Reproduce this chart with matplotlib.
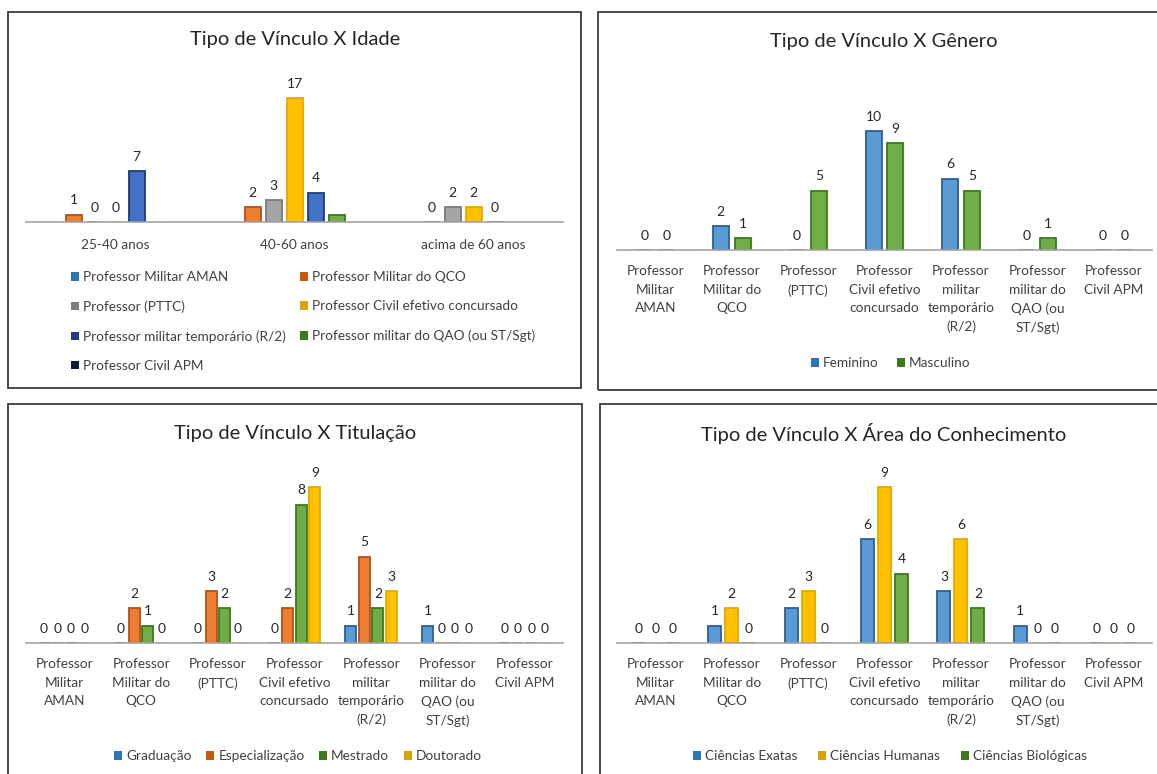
import matplotlib.pyplot as plt
import matplotlib.patches as mpatches
import numpy as np

W, H = 1157, 774

plt.rcParams['font.family'] = ['Lato', 'DejaVu Sans']

# categories
vinculos = ["Professor Militar AMAN", "Professor Militar do QCO", "Professor (PTTC)",
            "Professor Civil efetivo concursado", "Professor militar temporário (R/2)",
            "Professor militar do QAO (ou ST/Sgt)", "Professor Civil APM"]
vinculo_ticks = ["Professor\nMilitar\nAMAN", "Professor\nMilitar do\nQCO", "Professor\n(PTTC)",
                 "Professor\nCivil efetivo\nconcursado", "Professor\nmilitar\ntemporário\n(R/2)",
                 "Professor\nmilitar do\nQAO (ou\nST/Sgt)", "Professor\nCivil APM"]
idade_cats = ["25-40 anos", "40-60 anos", "acima de 60 anos"]

# idade: one list per vinculo (nan = no value in the sheet)
nan = np.nan
idade_aman = [nan, nan, nan]
idade_qco = [1, 2, 0]
idade_pttc = [0, 3, 2]
idade_civil = [0, 17, 2]
idade_temp = [7, 4, 0]
idade_qao = [nan, 1, nan]
idade_apm = [nan, nan, nan]
idade_labeled = [False, True, True, True, True, False, False]

genero_names = ["Feminino", "Masculino"]
genero_fem = [0, 2, 0, 10, 6, 0, 0]
genero_masc = [0, 1, 5, 9, 5, 1, 0]

titulo_names = ["Graduação", "Especialização", "Mestrado", "Doutorado"]
titulo_grad = [0, 0, 0, 0, 1, 1, 0]
titulo_esp = [0, 2, 3, 2, 5, 0, 0]
titulo_mest = [0, 1, 2, 8, 2, 0, 0]
titulo_dout = [0, 0, 0, 9, 3, 0, 0]

area_names = ["Ciências Exatas", "Ciências Humanas", "Ciências Biológicas"]
area_exatas = [0, 1, 2, 6, 3, 1, 0]
area_humanas = [0, 2, 3, 9, 6, 0, 0]
area_bio = [0, 0, 0, 4, 2, 0, 0]

# (fill, edge, legend swatch)
BLUE = ('#5b9bd5', '#2f5f91', '#2e75b6')
ORANGE = ('#ed7d31', '#b4501a', '#c55a11')
GRAY = ('#a5a5a5', '#7a7a7a', '#7f7f7f')
GOLD = ('#ffc000', '#e3a800', '#d9a300')
NAVY = ('#4472c4', '#1f3a7a', '#203a8c')
GREEN = ('#70ad47', '#3d7a1e', '#3c7a1e')
DARK = ('#1a2540', '#0d1326', '#0d1a3a')

TXT = '#262626'
FS = 9.8


def px_axes(fig, x0, y_top, x1, y_base):
    return fig.add_axes([x0 / W, 1 - y_base / H, (x1 - x0) / W, (y_base - y_top) / H])


def frame(fig, x0, y0, x1, y1):
    fig.patches.append(mpatches.Rectangle((x0 / W, 1 - y1 / H), (x1 - x0) / W, (y1 - y0) / H,
                                          transform=fig.transFigure, fill=False,
                                          edgecolor='#3a3a3a', linewidth=1.3))


def grouped(ax, series, styles, slot, width, labeled=None, fs=10):
    n = len(series)
    x = np.arange(len(series[0]))
    if labeled is None:
        labeled = [True] * n
    for i, vals in enumerate(series):
        v = np.array(vals, dtype=float)
        pos = x + (i - (n - 1) / 2) * slot
        ax.bar(pos, v, width, color=styles[i][0], edgecolor=styles[i][1], linewidth=1.3)
        if labeled[i]:
            for p, val in zip(pos, v):
                if not np.isnan(val):
                    ax.annotate(f"{val:g}", (p, val), xytext=(0, 6), textcoords='offset points',
                                ha='center', va='bottom', fontsize=fs, color=TXT)


def style_axes(ax, cats, ymax, pad):
    ax.set_xlim(-0.5, len(cats) - 0.5)
    ax.set_ylim(0, ymax)
    for s in ['top', 'left', 'right']:
        ax.spines[s].set_visible(False)
    ax.spines['bottom'].set_color('#a6a6a6')
    ax.spines['bottom'].set_linewidth(1.2)
    ax.set_yticks([])
    ax.set_xticks(range(len(cats)))
    ax.set_xticklabels(cats, fontsize=FS, color='#404040', linespacing=1.64, va='top')
    ax.tick_params(axis='x', length=0, pad=pad)
    ax.patch.set_alpha(0)


def legend(ax, names, styles, x, y, ncol, colsp, labsp=0.5):
    handles = [mpatches.Patch(facecolor=s[2], edgecolor='none') for s in styles]
    ax.legend(handles, names, loc='upper left', bbox_to_anchor=(x / W, 1 - y / H),
              bbox_transform=ax.figure.transFigure, ncol=ncol, frameon=False,
              handlelength=0.6, handleheight=0.6, handletextpad=0.3,
              columnspacing=colsp, labelspacing=labsp, fontsize=FS, labelcolor='#404040',
              borderaxespad=0, borderpad=0)


fig = plt.figure(figsize=(W / 100, H / 100), dpi=100)

frame(fig, 8, 12, 581, 388)
frame(fig, 598, 12, 1170, 390)
frame(fig, 8, 404, 582, 790)
frame(fig, 600, 404, 1170, 790)

# Tipo de Vinculo X Idade
ax1 = px_axes(fig, 26, 60, 563, 222)
st1 = [BLUE, ORANGE, GRAY, GOLD, NAVY, GREEN, DARK]
grouped(ax1, [idade_aman, idade_qco, idade_pttc, idade_civil, idade_temp, idade_qao, idade_apm],
        st1, 21 / 179, 16 / 179, idade_labeled)
style_axes(ax1, idade_cats, (222 - 60) / 7.3, 12)
fig.text(295 / W, 1 - 40 / H, "Tipo de Vínculo X Idade", ha='center', va='center',
         fontsize=14.5, color=TXT)
# row-major order for the two-column legend
order = [0, 2, 4, 6, 1, 3, 5]
legend(ax1, [vinculos[i] for i in order], [st1[i] for i in order], 71, 271, 2, 1.0, labsp=1.27)

# Tipo de Vinculo X Genero
ax2 = px_axes(fig, 617, 70, 1152, 250)
grouped(ax2, [genero_fem, genero_masc], [BLUE, GREEN], 22 / 76.5, 16 / 76.5)
style_axes(ax2, vinculo_ticks, (250 - 70) / 11.9, 11)
fig.text(884 / W, 1 - 42 / H, "Tipo de Vínculo X Gênero", ha='center', va='center',
         fontsize=14.5, color=TXT)
legend(ax2, genero_names, [BLUE, GREEN], 811, 357, 2, 1.3)

# Tipo de Vinculo X Titulacao
ax3 = px_axes(fig, 26, 460, 563, 643)
grouped(ax3, [titulo_grad, titulo_esp, titulo_mest, titulo_dout], [BLUE, ORANGE, GREEN, GOLD],
        13.5 / 76.7, 11 / 76.7)
style_axes(ax3, vinculo_ticks, (643 - 460) / 17.3, 11)
fig.text(295 / W, 1 - 434 / H, "Tipo de Vínculo X Titulação", ha='center', va='center',
         fontsize=14.5, color=TXT)
legend(ax3, titulo_names, [BLUE, ORANGE, GREEN, GOLD], 114, 750, 4, 1.05)

# Tipo de Vinculo X Area do Conhecimento
ax4 = px_axes(fig, 617, 460, 1152, 643)
grouped(ax4, [area_exatas, area_humanas, area_bio], [BLUE, GOLD, GREEN], 17 / 76.5, 13 / 76.5)
style_axes(ax4, vinculo_ticks, (643 - 460) / 17.3, 11)
fig.text(884 / W, 1 - 434 / H, "Tipo de Vínculo X Área do Conhecimento", ha='center',
         va='center', fontsize=14.5, color=TXT)
legend(ax4, area_names, [BLUE, GOLD, GREEN], 693, 750, 3, 1.5)

fig.savefig('out.png', dpi=100)
